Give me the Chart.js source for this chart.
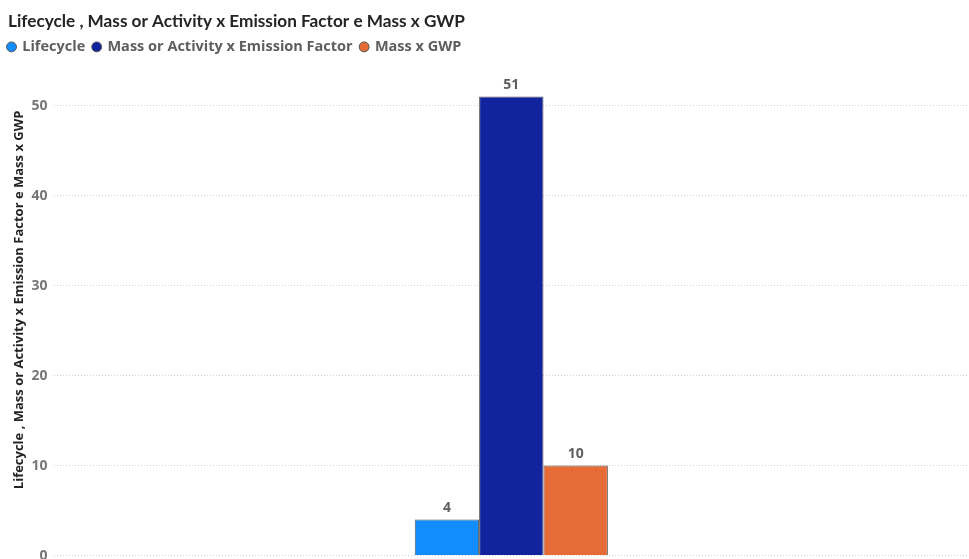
<!DOCTYPE html>
<html>
<head>
<meta charset="utf-8">
<script src="https://cdn.jsdelivr.net/npm/chart.js@4"></script>
<style>
  html, body { margin: 0; padding: 0; background: #fff; overflow: hidden; }
  html, body { width: 969px; height: 559px; }
  #wrap { width: 969px; height: 570px; position: relative; }
</style>
</head>
<body>
<div id="wrap"><canvas id="c"></canvas></div>
<script>
// Series and values
const categories = [""];
const seriesNames = ["Lifecycle", "Mass or Activity x Emission Factor", "Mass x GWP"];
const seriesValues = [[4], [51], [10]];
const seriesColors = ["#118DFF", "#12239E", "#E66C37"];
const yTicks = [0, 10, 20, 30, 40, 50];
const yMax = 54.6;
const chartTitle = "Lifecycle , Mass or Activity x Emission Factor e Mass x GWP";
const axisTitle = chartTitle;

// Value labels above each bar
const valueLabels = {
  id: "valueLabels",
  afterDatasetsDraw(chart) {
    const ctx = chart.ctx;
    ctx.save();
    ctx.font = "bold 14px 'Open Sans'";
    ctx.fillStyle = "#605E5C";
    ctx.textAlign = "center";
    ctx.textBaseline = "bottom";
    chart.data.datasets.forEach((ds, i) => {
      chart.getDatasetMeta(i).data.forEach((bar, j) => {
        ctx.fillText(String(ds.data[j]), bar.x, bar.y - 5);
      });
    });
    ctx.restore();
  }
};

// Pull the legend row flush with the title's left edge
const legendShift = {
  id: "legendShift",
  afterLayout(chart) {
    chart.legend.left -= 8;
  }
};

// Vertical value-axis caption, sitting a little above the plot's midpoint
const axisCaption = {
  id: "axisCaption",
  afterDraw(chart) {
    const ctx = chart.ctx;
    const y = chart.scales.y;
    ctx.save();
    ctx.font = "bold 13px 'Open Sans'";
    ctx.fillStyle = "#252423";
    ctx.textAlign = "center";
    ctx.textBaseline = "middle";
    ctx.translate(y.left + 11, (chart.chartArea.top + chart.chartArea.bottom) / 2 - 10);
    ctx.rotate(-Math.PI / 2);
    ctx.fillText(axisTitle, 0, 0);
    ctx.restore();
  }
};

new Chart(document.getElementById("c"), {
  type: "bar",
  data: {
    labels: categories,
    datasets: seriesNames.map((name, i) => ({
      label: name,
      data: seriesValues[i],
      backgroundColor: seriesColors[i],
      borderColor: "#555555",
      borderWidth: 1,
      barPercentage: 1,
      categoryPercentage: 0.211
    }))
  },
  options: {
    responsive: true,
    maintainAspectRatio: false,
    animation: false,
    layout: { padding: { left: 8, right: 0, top: 0, bottom: 0 } },
    plugins: {
      title: {
        display: true,
        text: chartTitle,
        align: "start",
        color: "#252423",
        font: { family: "Lato", size: 17.2, weight: "bold" },
        padding: { top: 11, bottom: 0 }
      },
      legend: {
        align: "start",
        labels: {
          usePointStyle: true,
          pointStyle: "circle",
          boxWidth: 7,
          boxHeight: 7,
          padding: 8,
          color: "#605E5C",
          font: { family: "Open Sans", size: 14.5, weight: "bold" }
        }
      },
      tooltip: { enabled: false }
    },
    scales: {
      x: { display: false },
      y: {
        min: 0,
        max: yMax,
        afterBuildTicks(axis) {
          axis.ticks = yTicks.map(v => ({ value: v }));
        },
        afterFit(axis) {
          axis.paddingTop = 0;
        },
        border: { display: false, dash: [1, 2] },
        grid: {
          color: "#D2D2D2",
          lineWidth: 1,
          drawTicks: false
        },
        ticks: {
          padding: 6,
          color: "#777777",
          font: { family: "Open Sans", size: 14, weight: "bold" }
        },
        title: {
          // space is reserved here; the caption itself is drawn by axisCaption
          display: true,
          text: axisTitle,
          color: "rgba(0,0,0,0)",
          font: { family: "Open Sans", size: 13, weight: "bold" },
          padding: { top: 2, bottom: 0 }
        }
      }
    }
  },
  plugins: [valueLabels, legendShift, axisCaption]
});
</script>
</body>
</html>
